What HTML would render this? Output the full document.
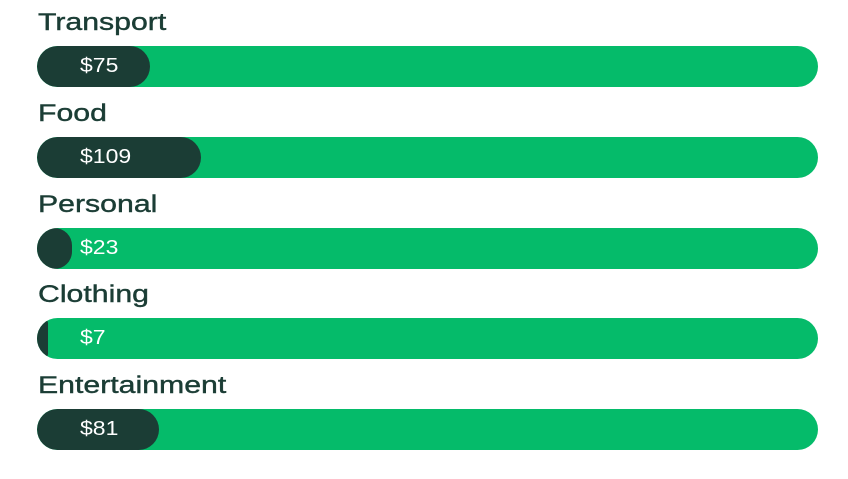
<!DOCTYPE html>
<html><head><meta charset="utf-8"><style>
body{margin:0;width:848px;height:479px;background:#fff;font-family:"Liberation Sans",sans-serif;overflow:hidden}
#chart{position:relative;width:848px;height:479px}
.lbl{position:absolute;left:38px;font-size:24px;color:#1b3d35;line-height:28px;transform:scaleX(1.26);transform-origin:left center;-webkit-text-stroke:0.4px #1b3d35}
.track{position:absolute;left:37px;width:781px;height:41px;border-radius:21px;background:#05bb6a;overflow:hidden}
.fill{position:absolute;left:0;top:0;height:41px;border-radius:21px;background:#1b3d35}
.val{position:absolute;left:43px;top:0;line-height:41px;font-size:20px;color:#fff;transform:scaleX(1.15);transform-origin:left center}
</style></head><body>
<div id="chart"></div>
<script>
const categories=["Transport","Food","Personal","Clothing","Entertainment"];
const values=[75,109,23,7,81];
const maxValue=520;
const chart=document.getElementById('chart');
const trackW=781;
function xScale(v){return v/maxValue*trackW;}
categories.forEach((c,i)=>{
  const top=46+i*90.8;
  const l=document.createElement('div');
  l.className='lbl';l.style.top=(top-37)+'px';l.textContent=c;
  
  
  chart.appendChild(l);
  const t=document.createElement('div');
  t.className='track';t.style.top=top+'px';
  
  
  const f=document.createElement('div');
  f.className='fill';f.style.width=xScale(values[i])+'px';
  
  
  t.appendChild(f);
  const v=document.createElement('div');
  v.className='val';v.textContent='$'+values[i];
  
  
  t.appendChild(v);
  chart.appendChild(t);
});
</script>
</body></html>
